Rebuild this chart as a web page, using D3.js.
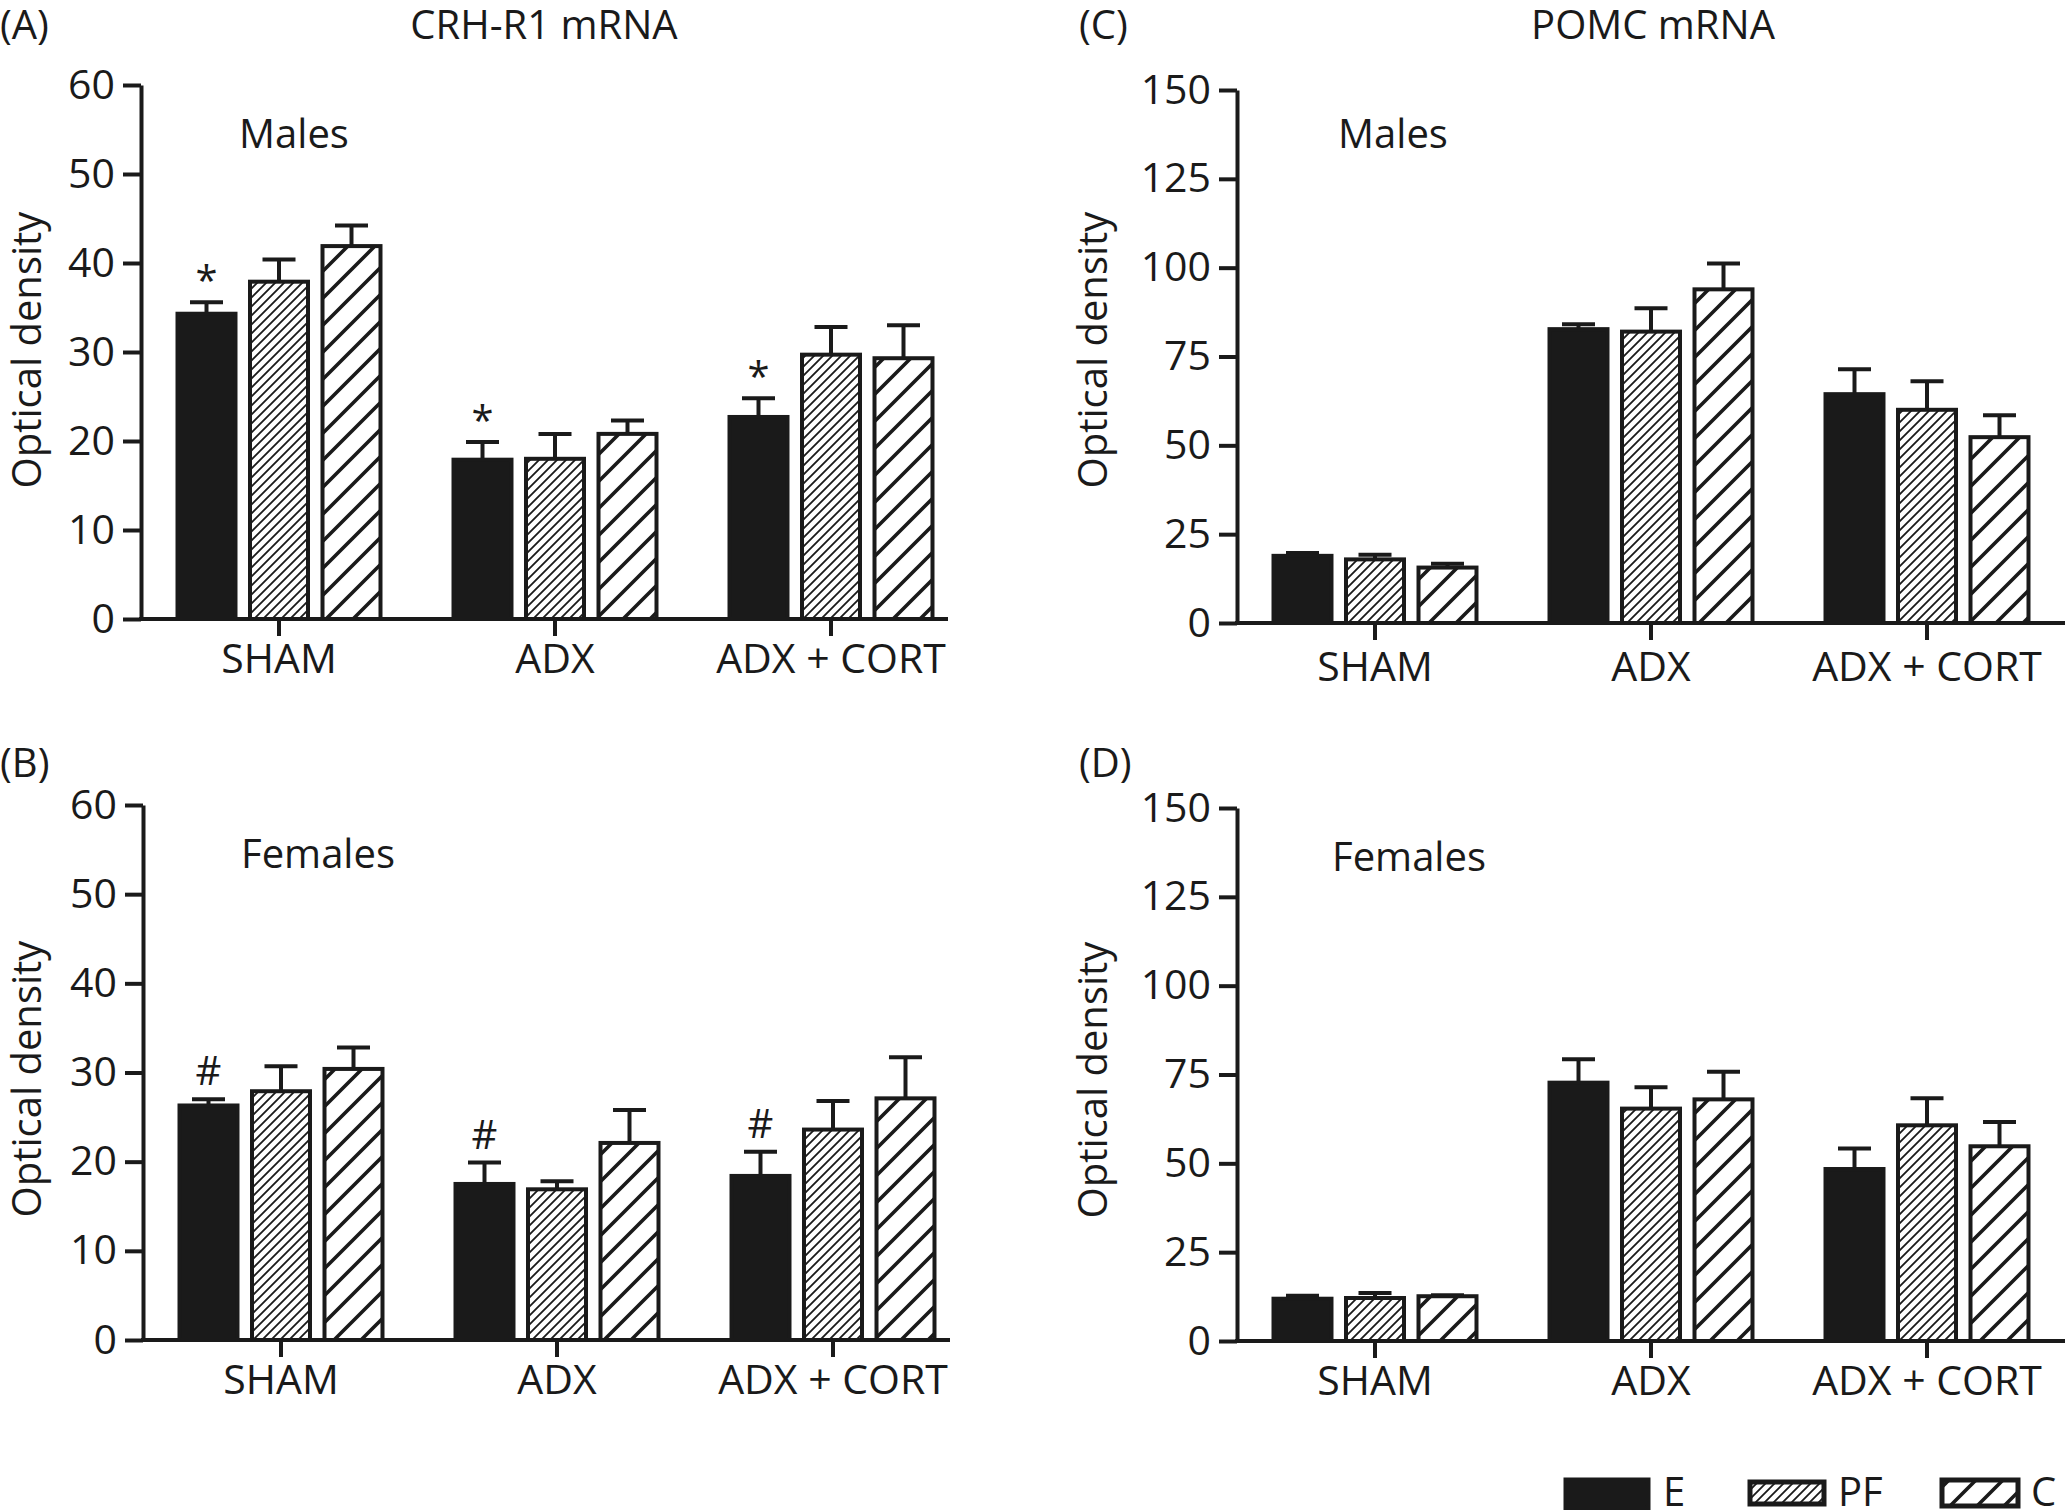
<!DOCTYPE html>
<html><head><meta charset="utf-8">
<script src="https://cdn.jsdelivr.net/npm/d3@7"></script>
<style>
body{margin:0;background:#fff}
svg{display:block}
text{font-family:"Open Sans",sans-serif;fill:#1a1a1a}
</style>
</head><body>
<svg id="chart" width="2070" height="1510"></svg>
<script>
// ---------- DATA ----------
const groups = ["SHAM", "ADX", "ADX + CORT"];
const seriesNames = ["E", "PF", "C"];
const crhTicks = [0, 10, 20, 30, 40, 50, 60];
const pomcTicks = [0, 25, 50, 75, 100, 125, 150];
// rows = groups (SHAM, ADX, ADX+CORT); columns = series (E, PF, C)
const crhMalesMean    = [[34.3, 37.9, 41.9], [17.9, 18.0, 20.8], [22.7, 29.7, 29.3]];
const crhMalesUpper   = [[35.6, 40.4, 44.2], [19.9, 20.8, 22.3], [24.8, 32.8, 33.0]];
const crhFemalesMean  = [[26.3, 27.9, 30.4], [17.5, 16.9, 22.1], [18.4, 23.6, 27.1]];
const crhFemalesUpper = [[27.0, 30.7, 32.8], [19.9, 17.8, 25.8], [21.1, 26.8, 31.7]];
const pomcMalesMean    = [[18.9, 17.9, 15.6], [82.7, 82.0, 93.9], [64.4, 60.0, 52.3]];
const pomcMalesUpper   = [[19.7, 19.2, 16.7], [84.1, 88.6, 101.2], [71.4, 68.0, 58.5]];
const pomcFemalesMean  = [[11.9, 12.1, 12.6], [72.7, 65.4, 68.0], [48.4, 60.7, 54.8]];
const pomcFemalesUpper = [[12.7, 13.5, 12.9], [79.3, 71.4, 75.8], [54.2, 68.3, 61.6]];
const crhMalesMarks = ["*", "*", "*"];     // over E bars
const crhFemalesMarks = ["#", "#", "#"];   // over E bars

// ---------- LAYOUT ----------
const INK = "#1a1a1a";
const svg = d3.select("#chart");
const defs = svg.append("defs");

const pf = defs.append("pattern").attr("id", "hatchPF").attr("patternUnits", "userSpaceOnUse")
  .attr("width", 9).attr("height", 9);
pf.append("rect").attr("width", 9).attr("height", 9).attr("fill", "#fff");
pf.append("path").attr("d", "M-1,1 l2,-2 M0,9 l9,-9 M8,10 l2,-2")
  .attr("stroke", INK).attr("stroke-width", 1.8);

const pc = defs.append("pattern").attr("id", "hatchC").attr("patternUnits", "userSpaceOnUse")
  .attr("width", 27).attr("height", 27);
pc.append("rect").attr("width", 27).attr("height", 27).attr("fill", "#fff");
pc.append("path").attr("d", "M-3,3 l6,-6 M0,27 l27,-27 M24,30 l6,-6")
  .attr("stroke", INK).attr("stroke-width", 3.6);

const fills = {E: INK, PF: "url(#hatchPF)", C: "url(#hatchC)"};

const panels = [
  {letter: "(A)", lx: 0, ly: 39, title: "CRH-R1 mRNA", tx: 544, sex: "Males", sx: 294, sy: 148,
   mean: crhMalesMean, upper: crhMalesUpper, marks: crhMalesMarks, markOff: 7,
   ticks: crhTicks, max: 60, ax: 141, y0: 619, yTop: 85, xEnd: 948, labPad: 8, ylx: 27, yly: 350},
  {letter: "(B)", lx: 0, ly: 777, title: null, sex: "Females", sx: 318, sy: 868,
   mean: crhFemalesMean, upper: crhFemalesUpper, marks: crhFemalesMarks, markOff: 14,
   ticks: crhTicks, max: 60, ax: 143, y0: 1340, yTop: 805, xEnd: 950, labPad: 8, ylx: 27, yly: 1079},
  {letter: "(C)", lx: 1079, ly: 39, title: "POMC mRNA", tx: 1653, sex: "Males", sx: 1393, sy: 148,
   mean: pomcMalesMean, upper: pomcMalesUpper, marks: null,
   ticks: pomcTicks, max: 150, ax: 1237, y0: 623, yTop: 90, xEnd: 2065, labPad: 12, ylx: 1093, yly: 350},
  {letter: "(D)", lx: 1079, ly: 777, title: null, sex: "Females", sx: 1409, sy: 871,
   mean: pomcFemalesMean, upper: pomcFemalesUpper, marks: null,
   ticks: pomcTicks, max: 150, ax: 1237, y0: 1341, yTop: 808, xEnd: 2065, labPad: 8, ylx: 1093, yly: 1080}
];

panels.forEach(p => {
  const g = svg.append("g");
  const y = d3.scaleLinear().domain([0, p.max]).range([p.y0, p.yTop]);
  const x = d3.scaleBand().domain(groups).range([p.ax, p.ax + 828]);
  const xs = d3.scaleBand().domain(seriesNames).range([-108.75, 108.75])
    .paddingInner(0.145).paddingOuter(0.0725);

  // panel letter & title
  g.append("text").attr("x", p.lx).attr("y", p.ly).attr("font-size", 40).text(p.letter);
  if (p.title) g.append("text").attr("x", p.tx).attr("y", p.ly).attr("font-size", 40)
    .attr("text-anchor", "middle").text(p.title);
  g.append("text").attr("x", p.sx).attr("y", p.sy).attr("font-size", 40)
    .attr("text-anchor", "middle").text(p.sex);

  // y label
  g.append("text").attr("transform", `translate(${p.ylx},${p.yly}) rotate(-90)`)
    .attr("font-size", 40).attr("text-anchor", "middle").attr("dy", "0.35em").text("Optical density");

  // bars
  groups.forEach((grp, gi) => {
    const cx = x(grp) + x.bandwidth() / 2;
    seriesNames.forEach((s, si) => {
      const bx = cx + xs(s);
      const bw = xs.bandwidth();
      const m = p.mean[gi][si], u = p.upper[gi][si];
      const cc = bx + bw / 2;
      // error bar
      g.append("line").attr("x1", cc).attr("x2", cc).attr("y1", y(m)).attr("y2", y(u))
        .attr("stroke", INK).attr("stroke-width", 4);
      g.append("line").attr("x1", cc - 16.5).attr("x2", cc + 16.5).attr("y1", y(u)).attr("y2", y(u))
        .attr("stroke", INK).attr("stroke-width", 4);
      g.append("rect").attr("x", bx + 2).attr("width", bw - 4)
        .attr("y", y(m)).attr("height", y(0) - y(m))
        .attr("fill", fills[s]).attr("stroke", INK).attr("stroke-width", 4);
      if (p.marks && si === 0) {
        g.append("text").attr("x", cc).attr("y", y(u) - p.markOff).attr("font-size", 40)
          .attr("text-anchor", "middle").text(p.marks[gi]);
      }
    });
  });

  // y axis
  const ya = g.append("g").attr("transform", `translate(${p.ax},0)`)
    .call(d3.axisLeft(y).tickValues(p.ticks).tickSize(18).tickSizeOuter(0).tickPadding(8));
  ya.selectAll("path.domain").attr("stroke", INK).attr("stroke-width", 4);
  ya.selectAll(".tick line").attr("stroke", INK).attr("stroke-width", 4);
  ya.selectAll(".tick text").attr("font-size", 41).attr("font-family", "'Open Sans',sans-serif").attr("fill", INK);

  // x axis
  const xa = g.append("g").attr("transform", `translate(0,${p.y0})`)
    .call(d3.axisBottom(x).tickSize(17).tickSizeOuter(0).tickPadding(p.labPad));
  xa.select("path.domain").remove();
  xa.append("line").attr("x1", p.ax - 2).attr("x2", p.xEnd).attr("y1", 0).attr("y2", 0)
    .attr("stroke", INK).attr("stroke-width", 4);
  xa.selectAll(".tick line").attr("stroke", INK).attr("stroke-width", 4);
  xa.selectAll(".tick text").attr("font-size", 41).attr("font-family", "'Open Sans',sans-serif").attr("fill", INK);
});

// legend
const leg = svg.append("g");
const legendItems = [
  {s: "E", x: 1566, y: 1480, w: 82, h: 28, tx: 1663},
  {s: "PF", x: 1750, y: 1482, w: 74, h: 22, tx: 1838},
  {s: "C", x: 1942, y: 1480, w: 76, h: 26, tx: 2031}
];
legendItems.forEach(it => {
  leg.append("rect").attr("x", it.x).attr("y", it.y).attr("width", it.w).attr("height", it.h)
    .attr("fill", fills[it.s]).attr("stroke", INK).attr("stroke-width", 5);
  leg.append("text").attr("x", it.tx).attr("y", 1506).attr("font-size", 40).text(it.s);
});
</script>
</body></html>
